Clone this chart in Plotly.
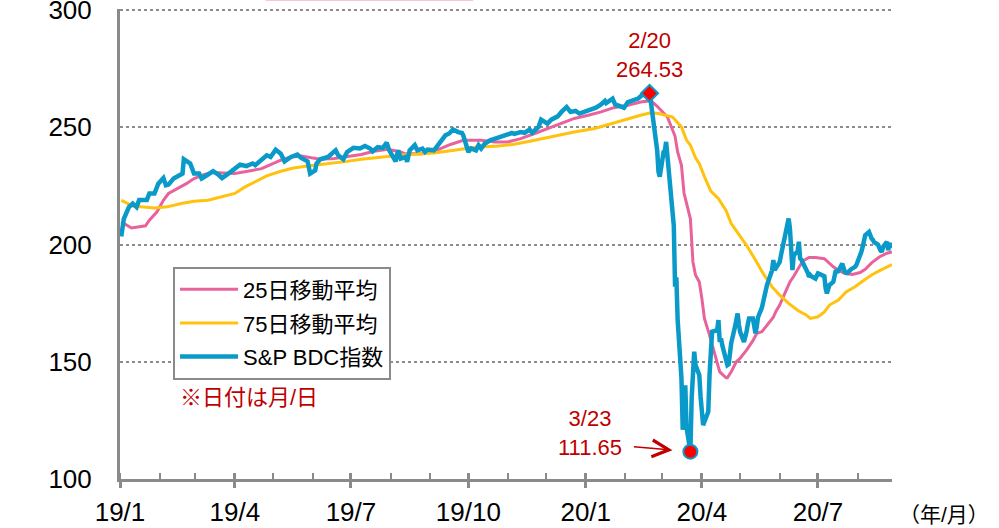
import plotly.graph_objects as go

# ---- axis ticks -------------------------------------------------------------
quarter_ticks = ["2019-01-01", "2019-04-01", "2019-07-01", "2019-10-01",
                 "2020-01-01", "2020-04-01", "2020-07-01"]
quarter_labels = ["19/1", "19/4", "19/7", "19/10", "20/1", "20/4", "20/7"]
y_ticks = [100, 150, 200, 250, 300]
x_range = ["2019-01-01", "2020-08-28"]
y_range = [100, 300.5]

# ---- S&P BDC index (daily close) ----------------------------------------------
bdc_dates = [
    "2019-01-02", "2019-01-04", "2019-01-08", "2019-01-11", "2019-01-14", "2019-01-16",
    "2019-01-22", "2019-01-24", "2019-01-28", "2019-01-31", "2019-02-04", "2019-02-06",
    "2019-02-08", "2019-02-12", "2019-02-19", "2019-02-20", "2019-02-25", "2019-02-28",
    "2019-03-04", "2019-03-06", "2019-03-11", "2019-03-15", "2019-03-19", "2019-03-22",
    "2019-03-28", "2019-04-01", "2019-04-05", "2019-04-10", "2019-04-15", "2019-04-17",
    "2019-04-22", "2019-04-26", "2019-04-29", "2019-05-03", "2019-05-07", "2019-05-10",
    "2019-05-15", "2019-05-20", "2019-05-23", "2019-05-28", "2019-05-30", "2019-06-03",
    "2019-06-04", "2019-06-07", "2019-06-13", "2019-06-19", "2019-06-21", "2019-06-25",
    "2019-06-28", "2019-07-03", "2019-07-08", "2019-07-12", "2019-07-16", "2019-07-18",
    "2019-07-22", "2019-07-26", "2019-07-29", "2019-07-31", "2019-08-05", "2019-08-07",
    "2019-08-09", "2019-08-13", "2019-08-14", "2019-08-16", "2019-08-20", "2019-08-22",
    "2019-08-26", "2019-08-28", "2019-08-30", "2019-09-04", "2019-09-06", "2019-09-10",
    "2019-09-13", "2019-09-16", "2019-09-19", "2019-09-23", "2019-09-26", "2019-09-27",
    "2019-10-01", "2019-10-03", "2019-10-07", "2019-10-09", "2019-10-11", "2019-10-14",
    "2019-10-18", "2019-10-22", "2019-10-28", "2019-10-31", "2019-11-04", "2019-11-06",
    "2019-11-11", "2019-11-14", "2019-11-18", "2019-11-20", "2019-11-25", "2019-11-27",
    "2019-12-02", "2019-12-05", "2019-12-10", "2019-12-13", "2019-12-17", "2019-12-20",
    "2019-12-24", "2019-12-27", "2020-01-02", "2020-01-06", "2020-01-09", "2020-01-13",
    "2020-01-16", "2020-01-17", "2020-01-22", "2020-01-24", "2020-01-28", "2020-01-31",
    "2020-02-03", "2020-02-07", "2020-02-11", "2020-02-14", "2020-02-20", "2020-02-21",
    "2020-02-24", "2020-02-25", "2020-02-26", "2020-02-27", "2020-02-28", "2020-03-02",
    "2020-03-03", "2020-03-04", "2020-03-05", "2020-03-06", "2020-03-09", "2020-03-10",
    "2020-03-11", "2020-03-12", "2020-03-13", "2020-03-16", "2020-03-17", "2020-03-18",
    "2020-03-19", "2020-03-20", "2020-03-23", "2020-03-24", "2020-03-25", "2020-03-26",
    "2020-03-27", "2020-03-30", "2020-03-31", "2020-04-01", "2020-04-02", "2020-04-03",
    "2020-04-06", "2020-04-07", "2020-04-08", "2020-04-09", "2020-04-13", "2020-04-14",
    "2020-04-15", "2020-04-16", "2020-04-17", "2020-04-20", "2020-04-21", "2020-04-22",
    "2020-04-23", "2020-04-24", "2020-04-27", "2020-04-28", "2020-04-29", "2020-04-30",
    "2020-05-01", "2020-05-04", "2020-05-05", "2020-05-06", "2020-05-07", "2020-05-08",
    "2020-05-11", "2020-05-12", "2020-05-13", "2020-05-14", "2020-05-15", "2020-05-18",
    "2020-05-19", "2020-05-20", "2020-05-21", "2020-05-22", "2020-05-26", "2020-05-27",
    "2020-05-28", "2020-05-29", "2020-06-01", "2020-06-02", "2020-06-03", "2020-06-04",
    "2020-06-05", "2020-06-08", "2020-06-09", "2020-06-10", "2020-06-11", "2020-06-12",
    "2020-06-15", "2020-06-16", "2020-06-17", "2020-06-18", "2020-06-19", "2020-06-22",
    "2020-06-23", "2020-06-24", "2020-06-25", "2020-06-26", "2020-06-29", "2020-06-30",
    "2020-07-01", "2020-07-02", "2020-07-06", "2020-07-07", "2020-07-08", "2020-07-09",
    "2020-07-10", "2020-07-13", "2020-07-14", "2020-07-15", "2020-07-16", "2020-07-17",
    "2020-07-20", "2020-07-21", "2020-07-22", "2020-07-23", "2020-07-24", "2020-07-27",
    "2020-07-28", "2020-07-29", "2020-07-30", "2020-07-31", "2020-08-03", "2020-08-04",
    "2020-08-05", "2020-08-06", "2020-08-07", "2020-08-10", "2020-08-11", "2020-08-12",
    "2020-08-13", "2020-08-14", "2020-08-17", "2020-08-18", "2020-08-19", "2020-08-20",
    "2020-08-21", "2020-08-24", "2020-08-25", "2020-08-26", "2020-08-27", "2020-08-28",
]
bdc_values = [
    203.5, 211.0, 216.0, 217.5, 216.0, 219.0,
    219.0, 221.8, 221.8, 226.0, 228.4, 225.3,
    225.6, 228.2, 230.3, 236.4, 234.6, 230.3,
    230.3, 228.2, 229.9, 231.3, 229.9, 228.4,
    230.7, 232.4, 234.1, 233.5, 234.6, 233.9,
    236.0, 238.1, 237.4, 240.5, 238.8, 235.5,
    237.4, 238.4, 237.0, 235.5, 230.3, 231.7,
    234.6, 236.4, 237.4, 240.2, 238.1, 236.4,
    239.5, 241.3, 241.0, 242.1, 241.0, 239.8,
    241.6, 241.2, 243.5, 240.2, 235.5, 240.2,
    236.7, 237.4, 235.3, 240.2, 242.4, 240.2,
    240.9, 239.5, 240.5, 240.2, 241.6, 244.5,
    246.6, 247.4, 249.1, 248.0, 247.6, 246.6,
    239.5, 241.0, 240.2, 242.4, 241.0, 243.1,
    244.5, 245.2, 246.2, 246.6, 247.6, 247.2,
    248.0, 247.7, 249.1, 247.7, 250.2, 253.3,
    251.6, 253.3, 254.7, 256.6, 258.7, 256.6,
    257.0, 255.9, 257.0, 257.6, 258.4, 259.8,
    261.3, 260.4, 262.3, 259.8, 258.7, 258.4,
    260.8, 261.6, 262.3, 263.7, 264.53, 261.0,
    248.0, 246.0, 240.0, 231.0, 229.0, 239.5,
    240.0, 243.8, 238.0, 231.0, 214.0, 208.0,
    182.0, 186.0, 168.0, 143.0, 121.0, 135.0,
    140.0, 122.0, 111.65, 134.4, 150.0, 154.3,
    148.6, 144.3, 135.0, 126.0, 123.0, 124.4,
    128.7, 144.3, 155.0, 162.8, 163.5, 167.8,
    158.5, 160.0, 157.0, 151.4, 148.6, 149.0,
    154.3, 158.0, 165.0, 168.0, 170.6, 166.0,
    162.8, 158.5, 160.0, 162.8, 166.0, 168.5,
    168.5, 165.0, 162.1, 165.0, 169.0, 173.0,
    175.6, 178.0, 181.0, 182.7, 189.0, 193.4,
    189.1, 190.0, 192.6, 195.5, 198.0, 201.2,
    204.0, 211.1, 206.9, 195.0, 189.1, 195.5,
    197.0, 201.2, 194.1, 193.5, 192.6, 189.1,
    188.0, 186.2, 187.0, 186.4, 185.5, 186.5,
    187.7, 187.5, 186.5, 181.3, 179.2, 181.0,
    182.7, 184.1, 187.0, 189.1, 188.5, 188.7,
    191.9, 190.0, 188.4, 188.0, 187.9, 189.5,
    189.8, 190.0, 190.5, 191.2, 195.0, 196.9,
    199.0, 201.9, 204.0, 205.4, 203.0, 202.6,
    202.0, 201.0, 200.0, 198.3, 197.5, 196.9,
    199.0, 201.2, 197.6, 200.5, 199.5, 200.0,
]

# ---- 25-day moving average ------------------------------------------------------
ma25_dates = [
    "2019-01-02", "2019-01-10", "2019-01-21", "2019-01-24", "2019-01-30", "2019-02-04",
    "2019-02-08", "2019-02-15", "2019-02-22", "2019-02-28", "2019-03-08", "2019-03-15",
    "2019-03-25", "2019-04-01", "2019-04-11", "2019-04-22", "2019-04-29", "2019-05-07",
    "2019-05-15", "2019-05-23", "2019-05-31", "2019-06-07", "2019-06-18", "2019-06-28",
    "2019-07-09", "2019-07-19", "2019-07-30", "2019-08-09", "2019-08-12", "2019-08-26",
    "2019-09-06", "2019-09-17", "2019-09-27", "2019-10-11", "2019-10-22", "2019-11-01",
    "2019-11-11", "2019-11-22", "2019-12-02", "2019-12-12", "2019-12-23", "2020-01-03",
    "2020-01-13", "2020-01-23", "2020-02-03", "2020-02-13", "2020-02-21", "2020-02-26",
    "2020-03-05", "2020-03-11", "2020-03-13", "2020-03-16", "2020-03-18", "2020-03-23",
    "2020-03-25", "2020-03-27", "2020-03-30", "2020-04-01", "2020-04-03", "2020-04-07",
    "2020-04-13", "2020-04-15", "2020-04-20", "2020-04-21", "2020-04-24", "2020-04-28",
    "2020-05-01", "2020-05-04", "2020-05-06", "2020-05-11", "2020-05-14", "2020-05-18",
    "2020-05-22", "2020-05-27", "2020-05-29", "2020-06-01", "2020-06-05", "2020-06-09",
    "2020-06-12", "2020-06-16", "2020-06-19", "2020-06-24", "2020-06-29", "2020-07-06",
    "2020-07-09", "2020-07-13", "2020-07-17", "2020-07-22", "2020-07-28", "2020-08-03",
    "2020-08-07", "2020-08-12", "2020-08-18", "2020-08-24", "2020-08-28",
]
ma25_values = [
    209.7, 207.1, 208.0, 210.4, 214.0, 218.9,
    221.8, 223.9, 226.0, 228.2, 229.9, 230.7,
    230.3, 230.3, 231.3, 232.4, 234.1, 236.0,
    237.4, 237.8, 237.0, 236.4, 236.7, 237.4,
    238.4, 239.8, 240.7, 239.5, 238.8, 238.8,
    240.2, 242.7, 244.5, 244.5, 243.8, 243.8,
    245.2, 247.4, 249.5, 251.6, 253.8, 255.2,
    256.6, 258.4, 259.4, 260.8, 261.4, 259.0,
    254.4, 246.2, 239.5, 233.8, 222.0, 211.0,
    192.6, 187.0, 184.0, 177.0, 168.5, 161.4,
    150.0, 145.7, 143.2, 143.2, 145.7, 150.0,
    151.5, 153.5, 155.0, 159.0, 162.1, 162.8,
    165.6, 169.0, 171.5, 174.2, 179.2, 184.1,
    186.5, 190.3, 193.0, 194.5, 194.5, 194.0,
    192.6, 190.5, 189.1, 187.7, 187.3, 188.1,
    189.5, 192.2, 194.7, 196.3, 196.9,
]

# ---- 75-day moving average ------------------------------------------------------
ma75_dates = [
    "2019-01-02", "2019-01-11", "2019-01-28", "2019-02-07", "2019-02-18", "2019-02-28",
    "2019-03-11", "2019-03-21", "2019-04-01", "2019-04-09", "2019-04-17", "2019-04-26",
    "2019-05-07", "2019-05-17", "2019-05-28", "2019-06-07", "2019-06-18", "2019-06-28",
    "2019-07-09", "2019-07-19", "2019-07-30", "2019-08-12", "2019-08-20", "2019-09-04",
    "2019-09-20", "2019-10-07", "2019-10-22", "2019-11-06", "2019-11-22", "2019-12-06",
    "2019-12-23", "2020-01-08", "2020-01-21", "2020-02-03", "2020-02-13", "2020-02-21",
    "2020-02-27", "2020-03-09", "2020-03-16", "2020-03-20", "2020-03-23", "2020-03-27",
    "2020-03-30", "2020-04-03", "2020-04-08", "2020-04-14", "2020-04-20", "2020-04-24",
    "2020-05-01", "2020-05-06", "2020-05-13", "2020-05-19", "2020-05-26", "2020-06-01",
    "2020-06-08", "2020-06-15", "2020-06-22", "2020-06-25", "2020-07-01", "2020-07-06",
    "2020-07-10", "2020-07-17", "2020-07-23", "2020-07-30", "2020-08-06", "2020-08-12",
    "2020-08-19", "2020-08-28",
]
ma75_values = [
    218.9, 216.5, 215.6, 216.1, 217.5, 218.5,
    218.9, 220.3, 221.8, 224.6, 226.7, 229.3,
    231.3, 232.7, 233.5, 234.1, 234.6, 235.5,
    236.4, 237.0, 237.8, 238.3, 238.5, 239.1,
    240.2, 241.6, 241.9, 242.8, 244.5, 246.2,
    248.0, 249.5, 251.6, 253.8, 255.2, 256.2,
    255.9, 254.4, 250.2, 244.5, 242.4, 237.0,
    234.5, 229.0, 222.8, 219.6, 214.5, 209.0,
    203.3, 199.7, 193.4, 187.7, 182.0, 178.4,
    174.9, 172.0, 169.9, 168.5, 169.2, 171.3,
    174.2, 176.3, 179.8, 182.0, 184.8, 187.0,
    189.1, 191.5,
]

# ---- highlighted points ------------------------------------------------------------
peak_date, peak_label, peak_value = "2020-02-20", "2/20", 264.53
trough_date, trough_label, trough_value = "2020-03-23", "3/23", 111.65

# ---- styling ------------------------------------------------------------------------
FONT = "Liberation Sans, Arial, 'Noto Sans CJK JP', sans-serif"
BLUE = "#0A9AC9"
PINK = "#E8639B"
YELLOW = "#FFC20E"
RED_TEXT = "#C00000"
AXIS = "#8A8A8A"

fig = go.Figure()

fig.add_trace(go.Scatter(
    x=ma25_dates, y=ma25_values, name="25日移動平均", mode="lines",
    line=dict(color=PINK, width=3), legendgroup="a"))
fig.add_trace(go.Scatter(
    x=ma75_dates, y=ma75_values, name="75日移動平均", mode="lines",
    line=dict(color=YELLOW, width=3), legendgroup="b"))
fig.add_trace(go.Scatter(
    x=bdc_dates, y=bdc_values, name="S&P BDC指数", mode="lines",
    line=dict(color=BLUE, width=4.5), legendgroup="c", xaxis="x2"))

# peak and trough markers
fig.add_trace(go.Scatter(
    x=[peak_date], y=[peak_value], mode="markers", showlegend=False, xaxis="x2",
    marker=dict(symbol="diamond", size=13, color="#FF0000",
                line=dict(color=BLUE, width=2))))
fig.add_trace(go.Scatter(
    x=[trough_date], y=[trough_value], mode="markers", showlegend=False, xaxis="x2",
    marker=dict(symbol="circle", size=14, color="#FF0000",
                line=dict(color=BLUE, width=2))))

annotations = [
    dict(x=peak_date, y=peak_value, xref="x", yref="y",
         text=f"{peak_label}<br>{peak_value:.2f}", showarrow=False,
         yanchor="bottom", yshift=9, font=dict(size=22, color=RED_TEXT)),
    dict(x=trough_date, y=trough_value, xref="x", yref="y",
         text=f"{trough_label}<br>{trough_value:.2f}", showarrow=False,
         xanchor="center", yanchor="middle", xshift=-100, yshift=19,
         font=dict(size=22, color=RED_TEXT)),
    dict(x=trough_date, y=trough_value, xref="x", yref="y", text="",
         showarrow=True, axref="pixel", ayref="pixel", ax=-58, ay=-5,
         standoff=18, arrowhead=5, arrowsize=2.2, arrowwidth=1.5,
         arrowcolor=RED_TEXT),
    dict(x=0.075, y=0.173, xref="paper", yref="paper", text="※日付は月/日",
         showarrow=False, xanchor="left", yanchor="middle",
         font=dict(size=22, color=RED_TEXT)),
    dict(x=1.067, y=-0.07, xref="paper", yref="paper", text="（年/月）",
         showarrow=False, xanchor="center", yanchor="middle", yshift=-3,
         font=dict(size=21, color="#000000")),
]

fig.update_layout(
    width=999, height=528,
    margin=dict(l=120, r=107, t=9, b=49, autoexpand=False),
    paper_bgcolor="white", plot_bgcolor="white",
    font=dict(family=FONT, color="#000000"),
    showlegend=True,
    legend=dict(
        x=0.0687, y=0.452, xanchor="left", yanchor="top",
        bgcolor="white", bordercolor=AXIS, borderwidth=2,
        font=dict(size=22, color="#000000"), itemwidth=58,
        traceorder="grouped", tracegroupgap=2),
    xaxis=dict(
        type="date", range=x_range, tickvals=quarter_ticks, ticktext=quarter_labels,
        ticks="outside", ticklen=6, tickwidth=2.5, tickcolor=AXIS,
        showline=True, linecolor=AXIS, linewidth=3, showgrid=False, zeroline=False,
        ticklabelstandoff=2, automargin=False,
        tickfont=dict(size=26, color="#000000"),
        minor=dict(ticks="inside", ticklen=6, tickwidth=2, tickcolor=AXIS,
                   dtick="M1", tick0="2019-01-01", showgrid=False)),
    xaxis2=dict(
        type="date", range=x_range, overlaying="x", side="bottom",
        tickvals=quarter_ticks, ticks="inside", ticklen=6, tickwidth=2.5,
        tickcolor=AXIS, showticklabels=False, showline=False, showgrid=False,
        zeroline=False, automargin=False),
    yaxis=dict(
        range=y_range, tickvals=y_ticks, ticks="", showline=True,
        linecolor=AXIS, linewidth=3, showgrid=True, gridcolor="#8C8C8C",
        gridwidth=1.5, griddash="dot", zeroline=False, ticklabelstandoff=20,
        ticklabeloverflow="allow", automargin=False,
        tickfont=dict(size=26, color="#000000")),
    annotations=annotations,
    shapes=[dict(type="rect", xref="paper", yref="paper",
                 x0=0.19, x1=0.456, y0=1.02, y1=1.3,
                 line=dict(color="#F2B6CD", width=2.5))],
)

fig.write_html("out.html")
